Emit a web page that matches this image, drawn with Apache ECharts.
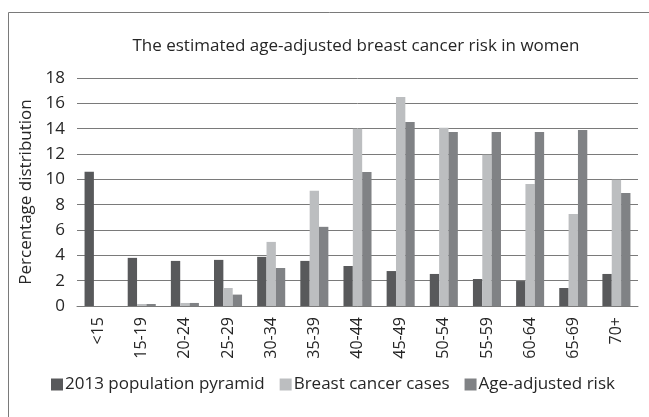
<!DOCTYPE html>
<html>
<head>
<meta charset="utf-8">
<script src="https://cdn.jsdelivr.net/npm/echarts@6/dist/echarts.min.js"></script>
<style>
html,body{margin:0;padding:0;background:#fff;}
#c{width:649px;height:417px;}
</style>
</head>
<body>
<div id="c"></div>
<script>
const categories = ['<15','15-19','20-24','25-29','30-34','35-39','40-44','45-49','50-54','55-59','60-64','65-69','70+'];
const population2013 = [10.6, 3.8, 3.56, 3.64, 3.88, 3.56, 3.16, 2.76, 2.53, 2.13, 1.97, 1.42, 2.53];
const breastCancerCases = [0, 0.16, 0.24, 1.42, 5.06, 9.1, 14.0, 16.5, 14.07, 11.94, 9.63, 7.26, 9.97];
const ageAdjustedRisk = [0, 0.16, 0.24, 0.9, 3.0, 6.25, 10.58, 14.52, 13.73, 13.73, 13.73, 13.89, 8.92];
const yTicks = [0, 2, 4, 6, 8, 10, 12, 14, 16, 18];

const font = 'Open Sans';
const textColor = '#262626';
const chart = echarts.init(document.getElementById('c'), null, {renderer: 'canvas'});
chart.setOption({
  animation: false,
  backgroundColor: '#ffffff',
  textStyle: {fontFamily: font, color: textColor},
  graphic: [{
    type: 'rect',
    shape: {x: 8.5, y: 12.5, width: 700, height: 500},
    style: {fill: 'none', stroke: '#7a7a7a', lineWidth: 1},
    silent: true
  }, {
    type: 'text',
    x: 356,
    y: 46,
    style: {
      text: 'The estimated age-adjusted breast cancer risk in women',
      fontFamily: font, fontSize: 17, fill: textColor,
      textAlign: 'center', textVerticalAlign: 'middle'
    },
    silent: true
  }],
  legend: {
    top: 376,
    left: 51,
    padding: 0,
    itemWidth: 12,
    itemHeight: 12,
    itemGap: 15,
    icon: 'rect',
    textStyle: {fontFamily: font, fontSize: 17, color: textColor, padding: [0,0,0,-3]},
    data: ['2013 population pyramid', 'Breast cancer cases', 'Age-adjusted risk']
  },
  grid: {left: 77, right: 11, top: 78, bottom: 111, containLabel: false},
  xAxis: {
    type: 'category',
    data: categories,
    axisLine: {lineStyle: {color: '#7a7a7a', width: 1}},
    axisTick: {show: false},
    axisLabel: {rotate: 90, fontSize: 16, color: textColor, margin: 11, fontFamily: font, interval: 0}
  },
  yAxis: {
    type: 'value',
    min: 0,
    max: 18,
    interval: 2,
    name: 'Percentage distribution',
    nameLocation: 'middle',
    nameGap: 41,
    nameTextStyle: {fontSize: 17, color: textColor, fontFamily: font},
    axisLine: {show: false},
    axisTick: {show: false},
    axisLabel: {fontSize: 17, color: textColor, margin: 12, fontFamily: font,
      formatter: v => yTicks.includes(v) ? String(v) : ''},
    splitLine: {lineStyle: {color: '#7a7a7a', width: 1}}
  },
  series: [
    {name: '2013 population pyramid', type: 'bar', data: population2013,
     itemStyle: {color: '#58595b'}, barGap: '0%', barCategoryGap: '35%'},
    {name: 'Breast cancer cases', type: 'bar', data: breastCancerCases,
     itemStyle: {color: '#bcbec0'}, barGap: '0%', barCategoryGap: '35%'},
    {name: 'Age-adjusted risk', type: 'bar', data: ageAdjustedRisk,
     itemStyle: {color: '#808285'}, barGap: '0%', barCategoryGap: '35%'}
  ]
});
</script>
</body>
</html>
